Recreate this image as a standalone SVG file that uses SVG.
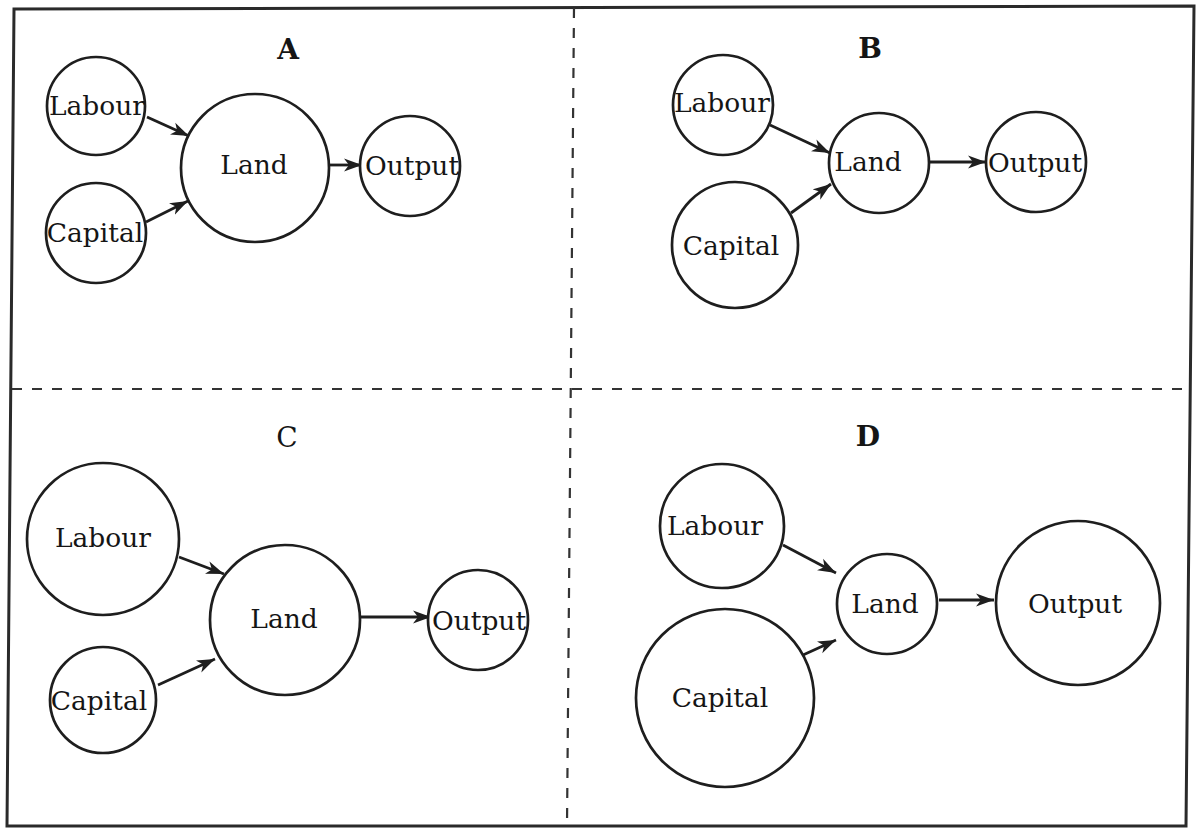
<svg xmlns="http://www.w3.org/2000/svg" width="1201" height="828" viewBox="0 0 1201 828">
<style>
.frame{fill:none;stroke:#2a2a2a;stroke-width:3}
.div{fill:none;stroke:#333;stroke-width:2.2;stroke-dasharray:10 10}
.node{fill:#fff;stroke:#1e1e1e;stroke-width:2.7}
.lbl{font-family:"DejaVu Serif","Liberation Serif",serif;font-size:26.5px;fill:#151515;text-anchor:middle}
.ttl{font-family:"DejaVu Serif","Liberation Serif",serif;font-size:28px;font-weight:bold;fill:#151515;text-anchor:middle}
.edge{fill:none;stroke:#1e1e1e;stroke-width:2.8;marker-end:url(#ah)}
</style>
<defs>
<marker id="ah" markerUnits="userSpaceOnUse" markerWidth="20" markerHeight="14" refX="18" refY="7" orient="auto" viewBox="0 0 20 14">
<path d="M0,0.5 L18,7 L0,13.5 L5,7 z" fill="#1e1e1e"/>
</marker>
</defs>
<rect width="1201" height="828" fill="#fff"/>
<g id="frame">
<polygon class="frame" points="14,9 1194,6 1186,826 7,826"/>
<line class="div" x1="574" y1="8" x2="567" y2="826"/>
<line class="div" x1="12" y1="389" x2="1190" y2="389"/>
</g>
<g id="titles">
<text class="ttl" x="288" y="59">A</text>
<text class="ttl" x="870" y="58">B</text>
<text class="ttl" x="287" y="447" style="font-weight:normal">C</text>
<text class="ttl" x="868" y="446">D</text>
</g>
<g id="connectors">
<line class="edge" x1="147" y1="117" x2="189" y2="136"/>
<line class="edge" x1="146" y1="222" x2="188" y2="201"/>
<line class="edge" x1="330" y1="165" x2="362" y2="165"/>
<line class="edge" x1="770" y1="125" x2="830" y2="153"/>
<line class="edge" x1="791" y1="213" x2="831" y2="184"/>
<line class="edge" x1="930" y1="162" x2="986" y2="162"/>
<line class="edge" x1="179" y1="557" x2="224" y2="574"/>
<line class="edge" x1="158" y1="685" x2="215" y2="659"/>
<line class="edge" x1="360" y1="617" x2="431" y2="617"/>
<line class="edge" x1="783" y1="545" x2="836" y2="573"/>
<line class="edge" x1="803" y1="655" x2="836" y2="640"/>
<line class="edge" x1="939" y1="600" x2="994" y2="600"/>
</g>
<g id="A-labour"><circle class="node" cx="96" cy="106" r="49"/><text class="lbl" x="97" y="115">Labour</text></g>
<g id="A-capital"><circle class="node" cx="96" cy="233" r="50"/><text class="lbl" x="95" y="242">Capital</text></g>
<g id="A-land"><circle class="node" cx="255" cy="168" r="74"/><text class="lbl" x="254" y="174">Land</text></g>
<g id="A-output"><circle class="node" cx="410" cy="166" r="50"/><text class="lbl" x="412" y="175">Output</text></g>
<g id="B-labour"><circle class="node" cx="723" cy="105" r="50"/><text class="lbl" x="722" y="112">Labour</text></g>
<g id="B-capital"><circle class="node" cx="735" cy="245" r="63"/><text class="lbl" x="731" y="255">Capital</text></g>
<g id="B-land"><circle class="node" cx="879" cy="163" r="50"/><text class="lbl" x="868" y="171">Land</text></g>
<g id="B-output"><circle class="node" cx="1036" cy="162" r="50"/><text class="lbl" x="1035" y="172">Output</text></g>
<g id="C-labour"><circle class="node" cx="103" cy="539" r="76"/><text class="lbl" x="103" y="547">Labour</text></g>
<g id="C-capital"><circle class="node" cx="103" cy="700" r="53"/><text class="lbl" x="99" y="710">Capital</text></g>
<g id="C-land"><circle class="node" cx="285" cy="620" r="75"/><text class="lbl" x="284" y="628">Land</text></g>
<g id="C-output"><circle class="node" cx="478" cy="620" r="50"/><text class="lbl" x="479" y="630">Output</text></g>
<g id="D-labour"><circle class="node" cx="722" cy="526" r="62"/><text class="lbl" x="715" y="535">Labour</text></g>
<g id="D-capital"><circle class="node" cx="725" cy="698" r="89"/><text class="lbl" x="720" y="707">Capital</text></g>
<g id="D-land"><circle class="node" cx="887" cy="604" r="50"/><text class="lbl" x="885" y="613">Land</text></g>
<g id="D-output"><circle class="node" cx="1078" cy="603" r="82"/><text class="lbl" x="1075" y="613">Output</text></g>
</svg>
